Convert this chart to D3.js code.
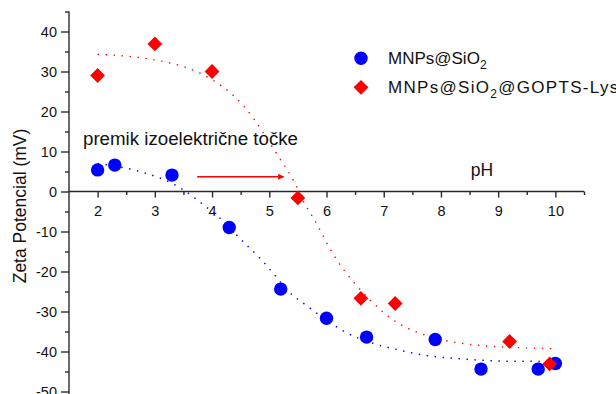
<!DOCTYPE html>
<html><head><meta charset="utf-8">
<script src="https://cdn.jsdelivr.net/npm/d3@7"></script>
<style>
html,body{margin:0;padding:0;background:#fff;}
svg{display:block;font-family:"Liberation Sans",Arial,sans-serif;}
</style></head>
<body><svg id="c" width="616" height="394"></svg>
<script>
// ---- data ----
const xTickValues = [2,3,4,5,6,7,8,9,10];
const xMinorValues = [2.5,3.5,4.5,5.5,6.5,7.5,8.5,9.5,10.5];
const yTickValues = [-50,-40,-30,-20,-10,0,10,20,30,40];
const yMinorValues = [-45,-35,-25,-15,-5,5,15,25,35,45];

const seriesNames = ["MNPs@SiO", "MNPs@SiO"];
const sio2X = [2.0,2.3,3.3,4.3,5.2,6.0,6.7,7.9,8.7,9.7,10.0];
const sio2Y = [5.4,6.6,4.1,-9.0,-24.4,-31.7,-36.4,-37.0,-44.4,-44.4,-43.0];
const lysX = [2.0,3.0,4.0,5.5,6.6,7.2,9.2,9.9];
const lysY = [29.0,36.9,30.0,-1.6,-26.7,-28.0,-37.5,-43.1];

// fitted (dotted) curves
const sio2FitX = [2.0,2.57,3.1,3.36,3.5,3.82,4.14,4.43,4.66,4.84,5.04,5.36,5.66,5.95,6.35,6.82,7.26,7.7,8.4,9.1,9.8,10.0];
const sio2FitY = [7.0,5.6,3.3,1.6,0.4,-3.0,-6.7,-10.9,-14.2,-16.7,-20.0,-25.3,-28.6,-31.7,-35.3,-38.0,-39.6,-40.9,-41.9,-42.4,-42.5,-42.6];
const lysFitX = [2.0,2.6,3.0,3.3,3.55,3.8,4.05,4.3,4.55,4.75,5.0,5.15,5.3,5.45,5.63,5.77,5.9,6.02,6.18,6.33,6.5,6.76,7.0,7.26,7.55,7.88,8.44,9.0,9.5,10.0];
const lysFitY = [34.3,33.7,32.9,32.0,31.0,29.5,27.5,24.9,21.4,17.8,12.3,9.0,5.7,2.0,-3.4,-6.6,-10.0,-13.3,-17.1,-20.1,-23.1,-27.1,-30.3,-33.0,-35.0,-36.6,-38.1,-38.8,-39.1,-39.3];

const annotation = "premik izoelektrične točke";
const xLabel = "pH";
const yLabel = "Zeta Potencial (mV)";

// ---- drawing ----
const svg = d3.select("#c");
const x = d3.scaleLinear().domain([1.5,10.5]).range([69,584]);
const y = d3.scaleLinear().domain([-50,45]).range([391.5,11.5]);
const axisColor = "#2a2a2a";
const blue = "#0000ff", red = "#ff0000";
const fmt = d => String(d);

// axes lines
svg.append("line").attr("x1",x(1.5)).attr("x2",x(1.5)).attr("y1",y(45)).attr("y2",394)
  .attr("stroke",axisColor).attr("stroke-width",1.4);
svg.append("line").attr("x1",x(1.5)).attr("x2",x(10.5)).attr("y1",y(0)).attr("y2",y(0))
  .attr("stroke",axisColor).attr("stroke-width",1.4);

// y axis
const gy = svg.append("g").attr("transform",`translate(${x(1.5)},0)`)
  .call(d3.axisLeft(y).tickValues(yTickValues).tickFormat(fmt).tickSize(8).tickSizeOuter(0).tickPadding(4));
const gym = svg.append("g").attr("transform",`translate(${x(1.5)},0)`)
  .call(d3.axisLeft(y).tickValues(yMinorValues).tickSize(4).tickSizeOuter(0).tickFormat(""));
// x axis
const gx = svg.append("g").attr("transform",`translate(0,${y(0)})`)
  .call(d3.axisBottom(x).tickValues(xTickValues).tickFormat(fmt).tickSize(6).tickSizeOuter(0).tickPadding(8));
const gxm = svg.append("g").attr("transform",`translate(0,${y(0)})`)
  .call(d3.axisBottom(x).tickValues(xMinorValues).tickSize(3.5).tickSizeOuter(0).tickFormat(""));
[gy,gym,gx,gxm].forEach(g=>{
  g.select(".domain").remove();
  g.selectAll(".tick line").attr("stroke",axisColor).attr("stroke-width",1.4);
  g.selectAll("text").attr("fill","#111").style("font-size","14.5px").style("font-family","Liberation Sans, Arial, sans-serif");
});

// y label
svg.append("text").attr("transform",`translate(26,206) rotate(-90)`)
  .attr("text-anchor","middle").style("font-size","17.5px").attr("fill","#111").text(yLabel);
// x label
svg.append("text").attr("x",482).attr("y",176).attr("text-anchor","middle")
  .style("font-size","17.5px").attr("fill","#111").text(xLabel);

// fitted curves
const line = d3.line().x(d=>x(d[0])).y(d=>y(d[1])).curve(d3.curveMonotoneX);
svg.append("path").datum(sio2FitX.map((v,i)=>[v,sio2FitY[i]])).attr("d",line)
  .attr("fill","none").attr("stroke",blue).attr("stroke-width",1.5).attr("stroke-dasharray","1.4 6.6");
svg.append("path").datum(lysFitX.map((v,i)=>[v,lysFitY[i]])).attr("d",line)
  .attr("fill","none").attr("stroke",red).attr("stroke-width",1.4).attr("stroke-dasharray","1.4 6.6");

// annotation + arrow
svg.append("text").attr("x",83).attr("y",145).style("font-size","18.7px").attr("fill","#111").text(annotation);
svg.append("defs").append("marker").attr("id","ah").attr("viewBox","0 0 10 10").attr("refX",9).attr("refY",5)
  .attr("markerWidth",10).attr("markerHeight",6).attr("markerUnits","userSpaceOnUse").attr("orient","auto")
  .append("path").attr("d","M0,0 L10,5 L0,10 Z").attr("fill",red);
svg.append("line").attr("x1",x(3.74)).attr("x2",x(5.25)).attr("y1",176.7).attr("y2",176.7)
  .attr("stroke",red).attr("stroke-width",1.5).attr("marker-end","url(#ah)");

// markers
function drawDiamond(g,cx,cy){
  const s = 7.4;
  g.append("path").attr("d",`M${cx},${cy-s}L${cx+s},${cy}L${cx},${cy+s}L${cx-s},${cy}Z`).attr("fill",red);
}
svg.append("g").selectAll("circle").data(sio2X.map((v,i)=>[v,sio2Y[i]])).join("circle")
  .attr("cx",d=>x(d[0])).attr("cy",d=>y(d[1])).attr("r",6.7).attr("fill",blue);
const gd = svg.append("g");
lysX.forEach((v,i)=>drawDiamond(gd,x(v),y(lysY[i])));

// legend
svg.append("circle").attr("cx",361).attr("cy",58.3).attr("r",6.7).attr("fill",blue);
drawDiamond(svg,361,87.3);
const t1 = svg.append("text").attr("x",388).attr("y",64).style("font-size","17px").attr("fill","#111");
t1.append("tspan").text(seriesNames[0]);
t1.append("tspan").attr("dy",5).style("font-size","12px").text("2");
const t2 = svg.append("text").attr("x",388).attr("y",93).style("font-size","17px")
  .style("letter-spacing","1.3px").attr("fill","#111");
t2.append("tspan").text(seriesNames[1]);
t2.append("tspan").attr("dy",5).style("font-size","12px").text("2");
t2.append("tspan").attr("dy",-5).text("@GOPTS-Lys");
</script></body></html>
